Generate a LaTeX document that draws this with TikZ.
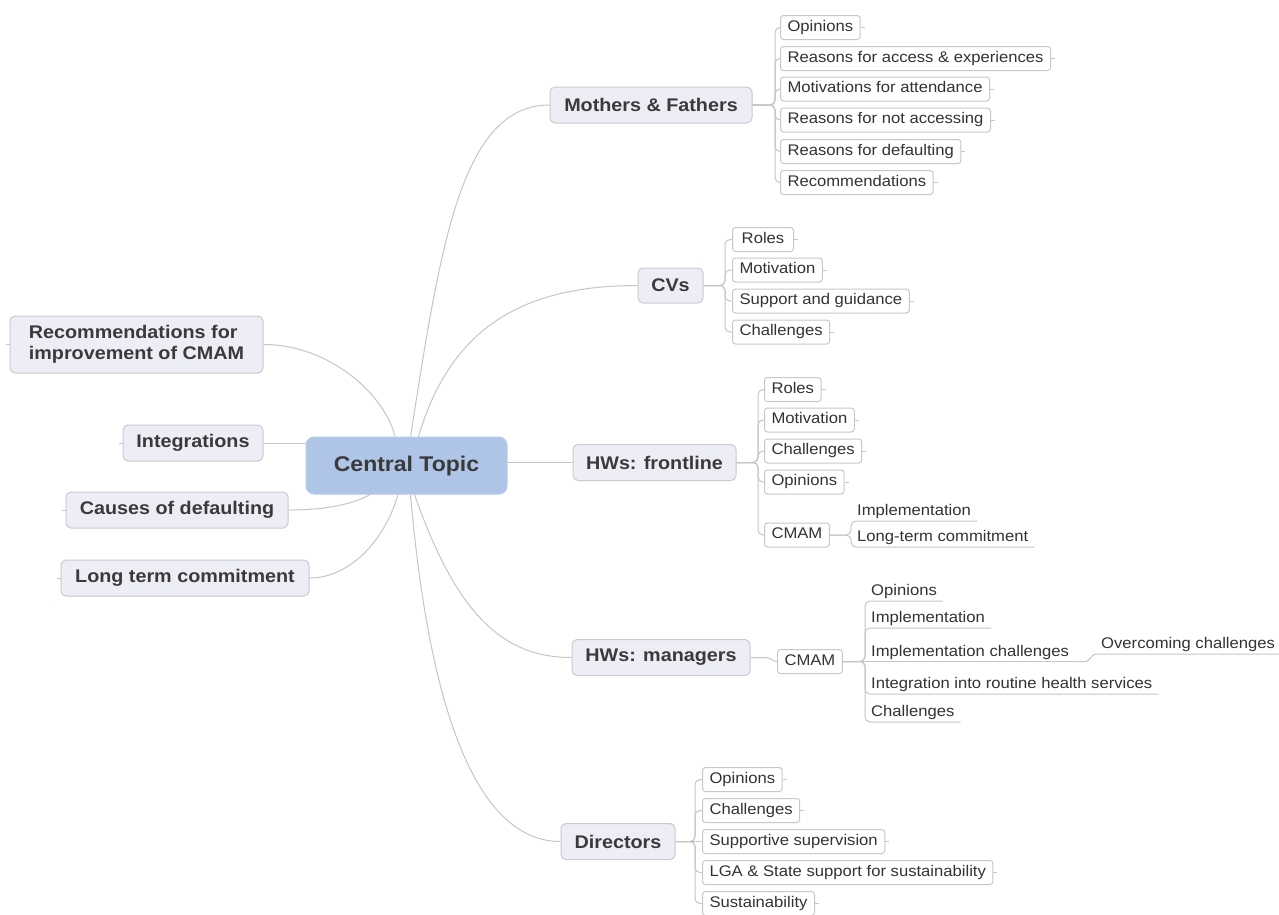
\documentclass[tikz,border=0pt]{standalone}
\usepackage{fontspec}
\setmainfont{Liberation Sans}[FakeStretch=1.08]
\usetikzlibrary{calc}
\definecolor{lc}{HTML}{C6C6C6}
\definecolor{tbc}{HTML}{C9CAD2}
\definecolor{tfc}{HTML}{EDEEF5}
\definecolor{cbc}{HTML}{B8CBE8}
\definecolor{cfc}{HTML}{AEC5E8}
\definecolor{sbc}{HTML}{C8C8C8}
\definecolor{ttc}{HTML}{3A3A3A}
\definecolor{stc}{HTML}{333333}
\newcommand\subfnt{\fontsize{15.4}{18.5}\selectfont}
\newcommand\topfnt{\fontsize{18.3}{21}\selectfont\bfseries}
\newcommand\cenfnt{\fontsize{21.3}{25}\selectfont\bfseries}
\begin{document}
\begin{tikzpicture}[x=1pt,y=-1pt,
  conn/.style={draw=lc, line width=1pt, rounded corners=5pt},
  conn0/.style={draw=lc, line width=1pt},
  stub/.style={draw=lc, line width=1pt},
  topic/.style={draw=tbc, fill=tfc, line width=1pt, rounded corners=5pt, inner sep=0pt, minimum height=36pt, text=ttc, font=\topfnt},
  centraltopic/.style={draw=cbc, fill=cfc, line width=1pt, rounded corners=8pt, inner sep=0pt, minimum width=201pt, minimum height=57pt, text=ttc, font=\cenfnt},
  sub/.style={draw=sbc, fill=white, line width=1pt, rounded corners=3pt, inner xsep=7pt, inner ysep=0pt, minimum height=24pt, text height=11pt, text depth=3.2pt, text=stc, font=\subfnt, anchor=west},
  uline/.style={inner xsep=6pt, inner ysep=1.8pt, text height=11pt, text depth=3.2pt, text=stc, font=\subfnt, anchor=south west},
]
\useasboundingbox (0,0) rectangle (1279,914);
\fill[white] (0,0) rectangle (1279,914);

% main topics
\node[centraltopic] (ct) at (406.5,465.5) {Central Topic};
\node[topic, minimum width=202pt] (mf) at (651,105) {Mothers \& Fathers};
\node[topic, minimum width=65pt, minimum height=35pt] (cvs) at (670.5,285.5) {CVs};
\node[topic, minimum width=163pt] (hwf) at (654.5,462.5) {HWs: frontline};
\node[topic, minimum width=178pt] (hwm) at (661,657.5) {HWs: managers};
\node[topic, minimum width=114pt] (dir) at (618,841.5) {Directors};
\node[topic, minimum width=253pt, minimum height=57pt, align=left] (rec) at (136.5,344.5) {Recommendations for\\improvement of CMAM};
\node[topic, minimum width=140pt] (integ) at (193,443) {Integrations};
\node[topic, minimum width=222pt] (caus) at (177,510) {Causes of defaulting};
\node[topic, minimum width=248pt] (longt) at (185,578) {Long term commitment};

% Mothers & Fathers
\node[sub] (m1) at (780,27.5) {Opinions};
\node[sub] (m2) at (780,58.5) {Reasons for access \& experiences};
\node[sub] (m3) at (780,89) {Motivations for attendance};
\node[sub] (m4) at (780,120) {Reasons for not accessing};
\node[sub] (m5) at (780,151.5) {Reasons for defaulting};
\node[sub] (m6) at (780,182.5) {Recommendations};
\foreach \n in {m1,m2,m3,m4,m5,m6} \draw[conn] (mf.east) -- (775,105) |- (\n.west);

% CVs
\node[sub, minimum width=61pt] (v1) at (732,239.5) {Roles};
\node[sub] (v2) at (732,270) {Motivation};
\node[sub] (v3) at (732,301) {Support and guidance};
\node[sub] (v4) at (732,332) {Challenges};
\foreach \n in {v1,v2,v3,v4} \draw[conn] (cvs.east) -- (725,285.5) |- (\n.west);

% HWs frontline
\node[sub] (f1) at (764,389.5) {Roles};
\node[sub] (f2) at (764,420) {Motivation};
\node[sub] (f3) at (764,451) {Challenges};
\node[sub] (f4) at (764,482) {Opinions};
\node[sub] (f5) at (764,535) {CMAM};
\foreach \n in {f1,f2,f3,f4,f5} \draw[conn] (hwf.east) -- (758,462.5) |- (\n.west);
\node[uline] (g1) at (851,521) {Implementation};
\node[uline] (g2) at (851,547) {Long-term commitment};
\foreach \n in {g1,g2} \draw[conn] (f5.east) -| (\n.south west) -- (\n.south east);

% HWs managers
\node[sub] (cmm) at (777,661.5) {CMAM};
\draw[conn0] (hwm.east) -- (766,657.5) to[out=0,in=180] (cmm.west);
\node[uline] (n1) at (865,601) {Opinions};
\node[uline] (n2) at (865,628) {Implementation};
\node[uline] (n3) at (865,661.5) {Implementation challenges};
\node[uline] (n4) at (865,694) {Integration into routine health services};
\node[uline] (n5) at (865,722) {Challenges};
\foreach \n in {n1,n2,n4,n5} \draw[conn] (cmm.east) -| (\n.south west) -- (\n.south east);
\draw[conn0] (cmm.east) -- (n3.south west) -- (n3.south east);
\node[uline, inner xsep=5pt] (oc) at (1096,654) {Overcoming challenges};
\draw[conn0] (n3.south east) -- ++(10,0) to[out=0,in=180] (oc.south west) -- (oc.south east);

% Directors
\node[sub] (d1) at (702,779.5) {Opinions};
\node[sub] (d2) at (702,810.5) {Challenges};
\node[sub] (d3) at (702,841.5) {Supportive supervision};
\node[sub] (d4) at (702,872.5) {LGA \& State support for sustainability};
\node[sub] (d5) at (702,903.5) {Sustainability};
\foreach \n in {d1,d2,d4,d5} \draw[conn] (dir.east) -- (695,841.5) |- (\n.west);
\draw[conn0] (dir.east) -- (d3.west);

% stubs
\foreach \n in {m1,m2,m3,m4,m5,m6,v1,v2,v3,v4,f1,f2,f3,f4,d1,d2,d3,d4,d5} \draw[stub] (\n.east) -- ++(4,0);
\foreach \n in {rec,integ,caus,longt} \draw[stub] (\n.west) -- ++(-4,0);

% central connectors
\draw[conn0] ($(ct.north)+(4,0)$) .. controls (440,250) and (460,105) .. (mf.west);
\draw[conn0] ($(ct.north)+(12,0)$) .. controls (450,330) and (520,285.5) .. (cvs.west);
\draw[conn0] (ct.east |- hwf.west) -- (hwf.west);
\draw[conn0] ($(ct.south)+(8,0)$) .. controls (455,610) and (500,657.5) .. (hwm.west);
\draw[conn0] ($(ct.south)+(4,0)$) .. controls (430,720) and (480,841.5) .. (dir.west);
\draw[conn0] (rec.east) .. controls (330,344.5) and (385,395) .. ($(ct.north)+(-11.5,0)$);
\draw[conn0] (integ.east) -- (ct.west |- integ.east);
\draw[conn0] (caus.east) .. controls (330,510) and (355,503) .. ($(ct.south)+(-36.5,0)$);
\draw[conn0] (longt.east) .. controls (350,578) and (385,540) .. ($(ct.south)+(-8.5,0)$);
\end{tikzpicture}
\end{document}
